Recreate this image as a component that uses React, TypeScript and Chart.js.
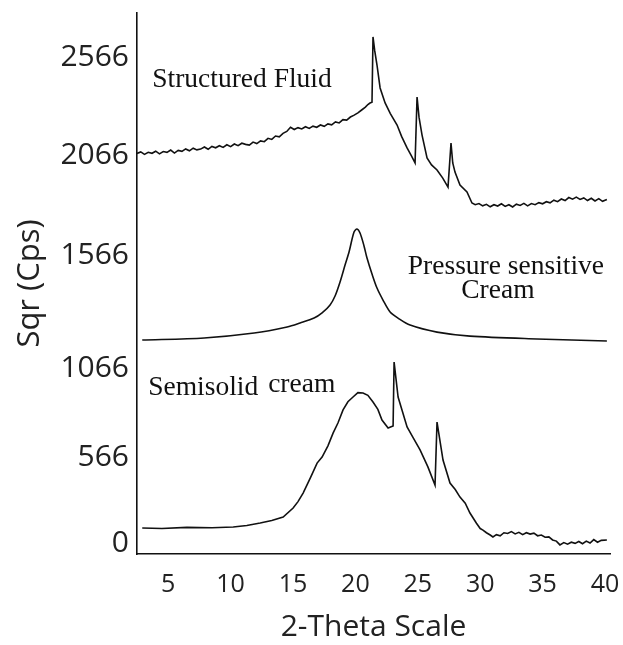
import React, { useEffect, useRef } from "react";
import { Chart, registerables } from "chart.js";

Chart.register(...registerables);

// X ticks (2-theta) and Y tick labels with their positions on the intensity axis
const xTickValues = [5, 10, 15, 20, 25, 30, 35, 40];
const yTickLabels = ["0", "566", "1066", "1566", "2066", "2566"];
const yTickPositions = [8, 461, 930, 1525, 2052, 2566];

// Structured Fluid
const sfX = [2.5, 2.8, 3.1, 3.4, 3.7, 4.0, 4.3, 4.6, 4.9, 5.2, 5.5, 5.8, 6.1, 6.4, 6.7, 7.0, 7.3, 7.6, 7.9, 8.2, 8.5, 8.8, 9.1, 9.4, 9.7, 10.0, 10.3, 10.6, 10.9, 11.2, 11.5, 11.8, 12.1, 12.4, 12.7, 13.0, 13.3, 13.6, 13.9, 14.2, 14.5, 14.8, 15.1, 15.4, 15.7, 16.0, 16.3, 16.6, 16.9, 17.2, 17.5, 17.8, 18.1, 18.4, 18.7, 19.0, 19.3, 19.6, 19.9, 20.2, 20.5, 20.8, 21.0, 21.17, 21.33, 21.41, 21.55, 21.73, 21.98, 22.38, 22.8, 23.34, 23.7, 24.14, 24.5, 24.78, 24.94, 25.1, 25.34, 25.74, 26.1, 26.54, 27.0, 27.42, 27.66, 27.8, 27.98, 28.38, 28.94, 29.34, 29.6, 29.9, 30.2, 30.5, 30.8, 31.1, 31.4, 31.7, 32.0, 32.3, 32.6, 32.9, 33.2, 33.5, 33.8, 34.1, 34.4, 34.7, 35.0, 35.3, 35.6, 35.9, 36.2, 36.5, 36.8, 37.1, 37.4, 37.7, 38.0, 38.3, 38.6, 38.9, 39.2, 39.5, 39.8, 40.15];
const sfY = [2060, 2068, 2055, 2066, 2061, 2072, 2058, 2070, 2066, 2078, 2062, 2076, 2071, 2084, 2074, 2088, 2079, 2083, 2094, 2082, 2097, 2090, 2101, 2092, 2106, 2096, 2110, 2101, 2114, 2108, 2104, 2120, 2112, 2126, 2122, 2140, 2134, 2152, 2148, 2166, 2176, 2198, 2186, 2196, 2189, 2201, 2192, 2204, 2198, 2210, 2203, 2216, 2211, 2226, 2221, 2238, 2236, 2252, 2262, 2274, 2289, 2304, 2318, 2326, 2330, 2674, 2600, 2526, 2405, 2326, 2270, 2210, 2150, 2089, 2046, 2010, 2357, 2250, 2157, 2036, 2000, 1973, 1930, 1883, 2115, 2010, 1962, 1894, 1857, 1799, 1790, 1796, 1784, 1792, 1779, 1790, 1783, 1795, 1781, 1790, 1778, 1793, 1786, 1797, 1784, 1796, 1790, 1801, 1795, 1806, 1800, 1814, 1806, 1820, 1812, 1828, 1819, 1830, 1818, 1826, 1812, 1824, 1810, 1822, 1808, 1818];

// Pressure sensitive Cream
const pscX = [2.92, 7.88, 11.89, 14.53, 15.57, 16.69, 17.33, 17.97, 18.37, 18.77, 19.17, 19.49, 19.89, 20.13, 20.37, 20.69, 20.93, 21.33, 21.73, 22.21, 22.78, 23.41, 24.38, 26.54, 29.18, 34.55, 40.15];
const pscY = [1077, 1088, 1114, 1146, 1167, 1193, 1220, 1262, 1309, 1383, 1472, 1541, 1646, 1662, 1641, 1573, 1509, 1425, 1351, 1288, 1225, 1193, 1156, 1119, 1098, 1083, 1072];

// Semisolid cream
const ssX = [2.92, 4.5, 6.5, 8.5, 10.21, 11.3, 12.37, 13.3, 14.21, 15.01, 15.4, 15.81, 16.4, 16.93, 17.33, 17.8, 18.21, 18.6, 19.01, 19.4, 19.81, 20.2, 20.61, 21.0, 21.41, 21.8, 22.13, 22.62, 23.02, 23.1, 23.42, 24.14, 24.6, 25.18, 25.8, 26.38, 26.54, 27.02, 27.58, 28.0, 28.38, 28.8, 29.18, 29.7, 30.0, 30.22, 30.5, 30.8, 31.02, 31.3, 31.6, 31.9, 32.2, 32.5, 32.8, 33.1, 33.4, 33.7, 34.0, 34.3, 34.6, 34.9, 35.2, 35.5, 35.8, 36.1, 36.39, 36.7, 37.0, 37.3, 37.6, 37.9, 38.2, 38.5, 38.8, 39.1, 39.4, 39.7, 40.15];
const ssY = [87, 84, 90, 88, 92, 100, 113, 126, 145, 192, 226, 271, 352, 429, 461, 520, 587, 640, 709, 752, 777, 800, 798, 786, 751, 712, 656, 614, 624, 961, 777, 619, 566, 498, 410, 313, 645, 445, 324, 290, 250, 218, 166, 112, 84, 76, 62, 50, 40, 52, 46, 62, 58, 68, 56, 64, 52, 62, 55, 60, 46, 50, 38, 40, 24, 18, -2, 10, 2, 12, 6, 16, 4, 18, 8, 26, 12, 22, 24];

const annotations = [
  { text: "Structured Fluid", x: 3.72, y: 2447, align: "left" },
  { text: "Pressure sensitive", x: 32.06, y: 1462, align: "center" },
  { text: "Cream", x: 31.42, y: 1335, align: "center" },
  { text: "Semisolid", x: 3.4, y: 824, align: "left" },
  { text: "cream", x: 13.01, y: 840, align: "left" },
];

const toPoints = (xs: number[], ys: number[]) => xs.map((x, i) => ({ x, y: ys[i] }));

const annotationPlugin = {
  id: "textAnnotations",
  afterDatasetsDraw(chart: any) {
    const { ctx, scales } = chart;
    ctx.save();
    ctx.fillStyle = "#111";
    ctx.font = '27.5px "Liberation Serif", "Times New Roman", serif';
    ctx.textBaseline = "middle";
    for (const a of annotations) {
      ctx.textAlign = a.align;
      ctx.fillText(a.text, scales.x.getPixelForValue(a.x), scales.y.getPixelForValue(a.y));
    }
    ctx.restore();
  },
};

export default function App() {
  const ref = useRef<HTMLCanvasElement>(null);
  useEffect(() => {
    if (!ref.current) return;
    const line = { borderColor: "#111", borderWidth: 1.6, pointRadius: 0, fill: false };
    const chart = new Chart(ref.current, {
      type: "line",
      data: {
        datasets: [
          { ...line, label: "Structured Fluid", data: toPoints(sfX, sfY), tension: 0 },
          { ...line, label: "Pressure sensitive Cream", data: toPoints(pscX, pscY), tension: 0.3 },
          { ...line, label: "Semisolid cream", data: toPoints(ssX, ssY), tension: 0 },
        ],
      },
      options: {
        animation: false,
        responsive: false,
        devicePixelRatio: 1,
        layout: { padding: { top: 13, right: 13, left: 0, bottom: 0 } },
        plugins: { legend: { display: false }, tooltip: { enabled: false } },
        scales: {
          x: {
            type: "linear",
            min: 2.5,
            max: 40.4,
            grid: { display: false, drawTicks: false },
            border: { display: true, color: "#111", width: 1.6 },
            afterBuildTicks: (s: any) => {
              s.ticks = xTickValues.map((v) => ({ value: v }));
            },
            afterFit: (s: any) => {
              s.height = 91;
              s.paddingLeft = 0;
              s.paddingRight = 0;
            },
            ticks: {
              color: "#222",
              padding: 16,
              font: { family: "'Open Sans'", size: 25 },
              maxRotation: 0,
              autoSkip: false,
            },
            title: {
              display: true,
              text: "2-Theta Scale",
              color: "#222",
              font: { family: "'Open Sans'", size: 30 },
              padding: { top: 0, bottom: 0 },
            },
          },
          y: {
            type: "linear",
            min: -50,
            max: 2800,
            grid: { display: false, drawTicks: false },
            border: { display: true, color: "#111", width: 1.6 },
            afterBuildTicks: (s: any) => {
              s.ticks = yTickPositions.map((v) => ({ value: v }));
            },
            afterFit: (s: any) => {
              s.width = 137;
              s.paddingTop = 0;
              s.paddingBottom = 0;
            },
            ticks: {
              color: "#222",
              padding: 8,
              font: { family: "'Open Sans'", size: 30 },
              autoSkip: false,
              callback: (_v: any, i: number) => yTickLabels[i],
            },
            title: {
              display: true,
              text: "Sqr (Cps)",
              color: "#222",
              font: { family: "'Open Sans'", size: 31 },
              padding: { top: 12, bottom: 0 },
            },
          },
        },
      },
      plugins: [annotationPlugin],
    });
    return () => chart.destroy();
  }, []);
  return (
    <div style={{ position: "fixed", left: 0, top: 0, width: 623, height: 645, background: "#fff" }}>
      <canvas ref={ref} width={623} height={645} />
    </div>
  );
}
